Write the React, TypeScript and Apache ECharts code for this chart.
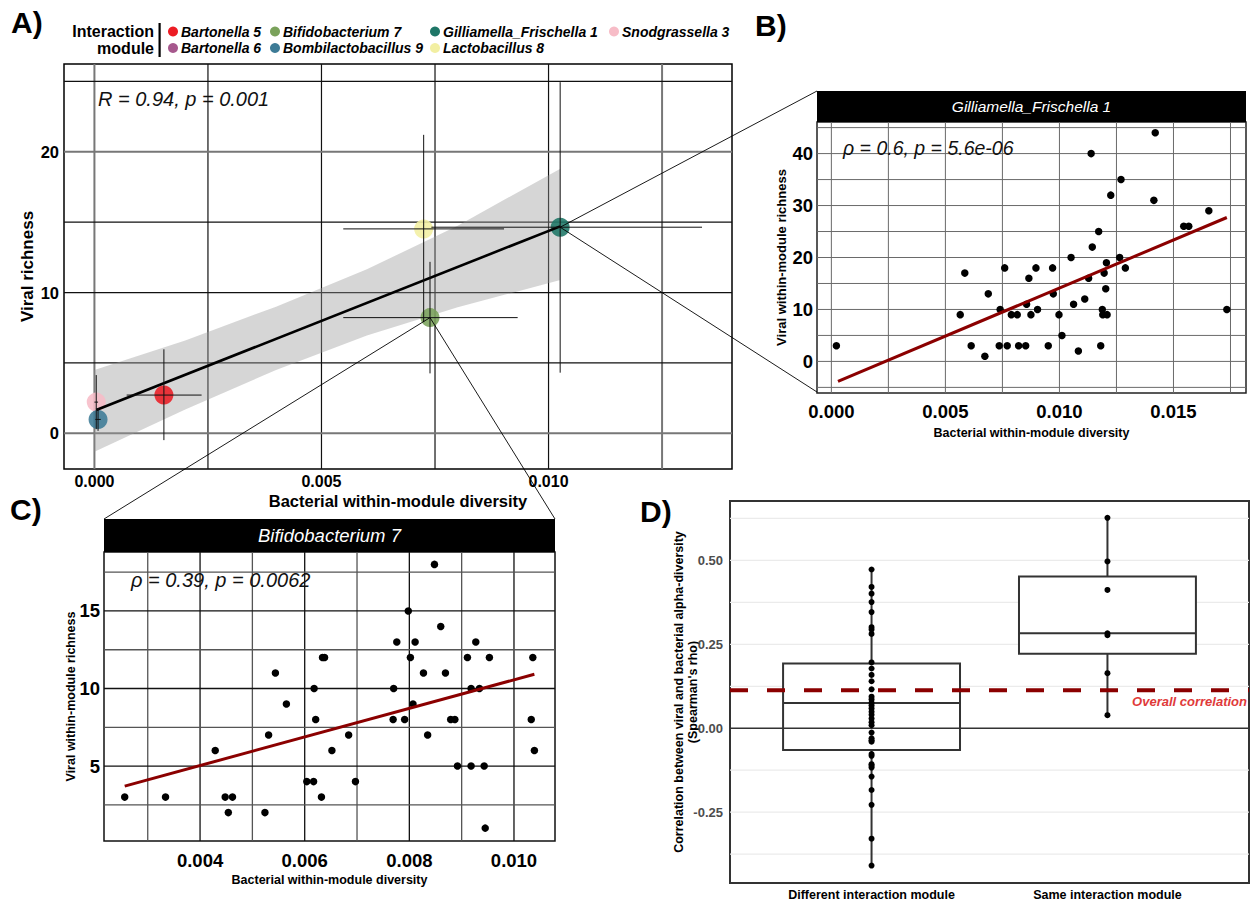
import React, { useEffect, useRef } from "react";
import * as echarts from "echarts";

const FONT = "'Liberation Sans', Arial, Helvetica, sans-serif";

// ---------------- modules / legend ----------------
const moduleNames = ["Bartonella 5", "Bartonella 6", "Bifidobacterium 7", "Bombilactobacillus 9", "Gilliamella_Frischella 1", "Lactobacillus 8", "Snodgrassella 3"];
const moduleColors = ["#EC1C24", "#A6588D", "#7AA25B", "#3D7B96", "#1E7667", "#F2EFA2", "#F7BCC7"];

// ---------------- Panel A ----------------
const aModules = ["Snodgrassella 3", "Bombilactobacillus 9", "Bartonella 5", "Lactobacillus 8", "Bifidobacterium 7", "Gilliamella_Frischella 1"];
const aBactDiv = [0.00004, 0.00008, 0.00153, 0.00725, 0.00739, 0.010256];
const aViralRich = [2.22, 0.99, 2.72, 14.52, 8.22, 14.64];
const aBactLo = [0.0, 0.00002, 0.00071, 0.00548, 0.00548, 0.00742];
const aBactHi = [0.00008, 0.00014, 0.00236, 0.00902, 0.00932, 0.01338];
const aViralLo = [0.3, 0.18, -0.48, 7.9, 4.26, 4.31];
const aViralHi = [4.14, 1.8, 5.97, 21.2, 12.18, 24.94];
const aFitX = [0.00004, 0.010256];
const aFitY = [1.66, 14.7];
const aBandX = [0, 0.002, 0.004, 0.006, 0.008, 0.01026];
const aBandLo = [-1.3, 1.7, 4.5, 6.95, 8.95, 10.9];
const aBandHi = [4.5, 6.6, 9.0, 11.65, 14.75, 18.8];
const aXTicks = [0, 0.005, 0.01];
const aYTicks = [0, 10, 20];
const aXGrid = [0, 0.0025, 0.005, 0.0075, 0.01, 0.0125];
const aYGrid = [0, 5, 10, 15, 20, 25];
const aCorrText = "R = 0.94, p = 0.001";

// ---------------- Panel B ----------------
const bTitle = "Gilliamella_Frischella 1";
const bBactDiv = [0.00022, 0.00565, 0.00585, 0.00613, 0.00673, 0.00688, 0.00736, 0.0074, 0.0076, 0.00771, 0.00789, 0.00815, 0.00821, 0.00852, 0.00856, 0.00866, 0.00875, 0.00897, 0.00904, 0.00951, 0.0097, 0.00973, 0.00998, 0.01011, 0.01051, 0.01062, 0.01083, 0.01111, 0.01128, 0.01139, 0.01144, 0.01172, 0.01181, 0.01188, 0.0119, 0.01196, 0.01203, 0.01206, 0.01209, 0.01225, 0.01264, 0.0127, 0.01289, 0.01414, 0.0142, 0.01545, 0.01567, 0.01655, 0.01734];
const bViralRich = [3, 9, 17, 3, 1, 13, 3, 10, 18, 3, 9, 9, 3, 3, 11, 16, 9, 18, 10, 3, 18, 13, 9, 5, 20, 11, 2, 12, 16, 40, 22, 25, 3, 10, 9, 17, 14, 19, 9, 32, 20, 35, 18, 31, 44, 26, 26, 29, 10];
const bFitX = [0.00029, 0.01734];
const bFitY = [-3.84, 27.7];
const bXTicks = [0, 0.005, 0.01, 0.015];
const bYTicks = [0, 10, 20, 30, 40];
const bXGrid = [0, 0.0025, 0.005, 0.0075, 0.01, 0.0125, 0.015, 0.0175];
const bYGrid = [-5, 0, 5, 10, 15, 20, 25, 30, 35, 40, 45];
const bCorrText = "ρ = 0.6, p = 5.6e-06";

// ---------------- Panel C ----------------
const cTitle = "Bifidobacterium 7";
const cBactDiv = [0.00256, 0.00334, 0.00429, 0.00448, 0.00454, 0.00462, 0.00524, 0.00531, 0.00544, 0.00565, 0.00604, 0.00617, 0.00618, 0.00621, 0.00632, 0.00634, 0.00638, 0.00652, 0.00684, 0.00697, 0.00769, 0.0077, 0.00776, 0.00791, 0.00798, 0.00802, 0.00807, 0.00811, 0.00827, 0.00835, 0.00848, 0.0086, 0.00869, 0.00879, 0.00887, 0.00892, 0.00911, 0.00918, 0.00918, 0.00927, 0.00934, 0.00943, 0.00945, 0.00953, 0.01033, 0.01036, 0.01039];
const cViralRich = [3, 3, 6, 3, 2, 3, 2, 7, 11, 9, 4, 4, 10, 8, 3, 12, 12, 6, 7, 4, 8, 10, 13, 8, 15, 12, 9, 13, 11, 7, 18, 14, 11, 8, 8, 5, 12, 10, 5, 13, 10, 5, 1, 12, 8, 12, 6];
const cFitX = [0.00256, 0.01039];
const cFitY = [3.71, 10.92];
const cXTicks = [0.004, 0.006, 0.008, 0.01];
const cYTicks = [5, 10, 15];
const cXGrid = [0.003, 0.004, 0.005, 0.006, 0.007, 0.008, 0.009, 0.01];
const cYGrid = [2.5, 5, 7.5, 10, 12.5, 15, 17.5];
const cCorrText = "ρ = 0.39, p = 0.0062";

// ---------------- Panel D ----------------
const dGroups = ["Different interaction module", "Same interaction module"];
const dDiffRho = [0.473, 0.421, 0.401, 0.376, 0.346, 0.301, 0.294, 0.281, 0.196, 0.178, 0.159, 0.14, 0.116, 0.094, 0.086, 0.076, 0.068, 0.059, 0.049, 0.04, 0.029, 0.018, 0.009, -0.013, -0.03, -0.036, -0.04, -0.077, -0.082, -0.107, -0.112, -0.117, -0.144, -0.184, -0.228, -0.329, -0.409];
const dSameRho = [0.627, 0.497, 0.412, 0.283, 0.277, 0.164, 0.039];
const dBoxMin = [-0.409, 0.0386];
const dBoxQ1 = [-0.065, 0.222];
const dBoxMed = [0.075, 0.283];
const dBoxQ3 = [0.193, 0.452];
const dBoxMax = [0.473, 0.627];
const dOverallRho = 0.113;
const dYTicks = [-0.25, 0, 0.25, 0.5];
const dYGrid = [-0.375, -0.25, -0.125, 0.125, 0.25, 0.375, 0.5, 0.625];
const dZero = [0];

// ---------------- layout ----------------
const GA = { left: 64, top: 64, width: 668, height: 405 };
const GB = { left: 817, top: 122, width: 429, height: 271 };
const GC = { left: 104, top: 552, width: 451, height: 289 };
const GD = { left: 730, top: 501, width: 519, height: 383 };

function vLines(idx: number, values: number[], yRef: number, styleFn: (v: number) => any, z = 1) {
  return {
    type: "custom",
    xAxisIndex: idx,
    yAxisIndex: idx,
    silent: true,
    z,
    data: values.map((v) => [v, yRef]),
    renderItem: (params: any, api: any) => {
      const cs = params.coordSys;
      const x = api.coord([api.value(0), api.value(1)])[0];
      return { type: "line", shape: { x1: x, y1: cs.y, x2: x, y2: cs.y + cs.height }, style: styleFn(api.value(0)) };
    },
  };
}
function hLines(idx: number, values: number[], xRef: number, styleFn: (v: number) => any, z = 1) {
  return {
    type: "custom",
    xAxisIndex: idx,
    yAxisIndex: idx,
    silent: true,
    z,
    data: values.map((v) => [xRef, v]),
    renderItem: (params: any, api: any) => {
      const cs = params.coordSys;
      const y = api.coord([api.value(0), api.value(1)])[1];
      return { type: "line", shape: { x1: cs.x, y1: y, x2: cs.x + cs.width, y2: y }, style: styleFn(api.value(1)) };
    },
  };
}

function valAxis(idx: number, min: number, max: number, ticks: number[], fmt: (v: number) => string, label: any, name?: string, nameGap?: number, nameStyle?: any) {
  return {
    type: "value",
    gridIndex: idx,
    min,
    max,
    axisLine: { show: false },
    axisTick: { show: false },
    splitLine: { show: false },
    axisLabel: { customValues: ticks, formatter: fmt, fontFamily: FONT, ...label },
    name: name || "",
    nameLocation: "middle",
    nameGap: nameGap || 0,
    nameMoveOverlap: false,
    nameTextStyle: { fontFamily: FONT, ...(nameStyle || {}) },
  };
}

export default function App() {
  const ref = useRef<HTMLDivElement>(null);
  useEffect(() => {
    if (!ref.current) return;
    const chart = echarts.init(ref.current, undefined, { renderer: "svg" });

    const boldLbl = (size: number, color = "#000", margin = 5) => ({ fontSize: size, fontWeight: "bold", color, margin, lineHeight: Math.round(size) });
    const titleStyle = (size: number) => ({ fontSize: size, fontWeight: "bold", color: "#000", lineHeight: Math.round(size) });

    const isGrayA = (v: number) => Math.abs(v) < 1e-12 || Math.abs(v - 0.0125) < 1e-9 || v === 20;
    const aGridStyle = (v: number) => ({ stroke: isGrayA(v) ? "#777" : "#111", lineWidth: isGrayA(v) ? 2 : 1.2 });
    const bGridStyle = (v: number) => ({ stroke: "#6a6a6a", lineWidth: 1 });
    const cGridX = (v: number) => ({ stroke: Math.round(v * 1000) % 2 === 0 ? "#111" : "#555", lineWidth: 1.3 });
    const cGridY = (v: number) => ({ stroke: v % 5 === 0 ? "#111" : "#555", lineWidth: 1.3 });

    const option: any = {
      animation: false,
      backgroundColor: "#fff",
      grid: [
        { ...GA, show: true, borderColor: "#000", borderWidth: 1.5, backgroundColor: "transparent" },
        { ...GB, show: true, borderColor: "#222", borderWidth: 1.5, backgroundColor: "transparent" },
        { ...GC, show: true, borderColor: "#111", borderWidth: 1.5, backgroundColor: "transparent" },
        { ...GD, show: true, borderColor: "#333", borderWidth: 2, backgroundColor: "transparent" },
      ],
      xAxis: [
        valAxis(0, -0.00067, 0.01404, aXTicks, (v) => v.toFixed(3), boldLbl(16, "#000", 4), "Bacterial within-module diversity", 23, titleStyle(16.5)),
        valAxis(1, -0.00063, 0.01818, bXTicks, (v) => v.toFixed(3), boldLbl(18.5, "#000", 9), "Bacterial within-module diversity", 33, titleStyle(12.5)),
        valAxis(2, 0.002164, 0.010784, cXTicks, (v) => v.toFixed(3), boldLbl(18.5, "#000", 10), "Bacterial within-module diversity", 32, titleStyle(12.5)),
        valAxis(3, 0.4, 2.6, [1, 2], (v) => dGroups[Math.round(v) - 1] || "", boldLbl(12.5, "#000", 5)),
      ],
      yAxis: [
        valAxis(0, -2.53, 26.23, aYTicks, (v) => String(v), boldLbl(16.5, "#000", 5), "Viral richness", 28, titleStyle(17)),
        valAxis(1, -6.08, 46.08, bYTicks, (v) => String(v), boldLbl(18.5, "#000", 4), "Viral within-module richness", 29, titleStyle(13)),
        valAxis(2, 0.17, 18.8, cYTicks, (v) => String(v), boldLbl(18.5, "#000", 4), "Viral within-module richness", 27, titleStyle(12.5)),
        valAxis(3, -0.461, 0.677, dYTicks, (v) => v.toFixed(2), boldLbl(13, "#4D4D4D", 7), "Correlation between viral and bacterial alpha-diversity\n(Spearman's rho)", 30, { ...titleStyle(12.5), lineHeight: 14 }),
      ],
      series: [
        // ---- A ----
        vLines(0, aXGrid, 0, aGridStyle),
        hLines(0, aYGrid, 0, aGridStyle),
        {
          type: "custom",
          xAxisIndex: 0,
          yAxisIndex: 0,
          silent: true,
          z: 2,
          data: [[aBandX[0], aBandLo[0]]],
          renderItem: (params: any, api: any) => {
            const pts: number[][] = [];
            aBandX.forEach((x, i) => pts.push(api.coord([x, aBandHi[i]])));
            for (let i = aBandX.length - 1; i >= 0; i--) pts.push(api.coord([aBandX[i], aBandLo[i]]));
            return { type: "polygon", shape: { points: pts, smooth: 0 }, style: { fill: "#999999", opacity: 0.4 } };
          },
        },
        {
          type: "scatter",
          xAxisIndex: 0,
          yAxisIndex: 0,
          z: 3,
          symbolSize: 19,
          data: aModules.map((m, i) => ({ value: [aBactDiv[i], aViralRich[i]], itemStyle: { color: moduleColors[moduleNames.indexOf(m)], opacity: 0.88 } })),
        },
        {
          type: "line",
          xAxisIndex: 0,
          yAxisIndex: 0,
          z: 4,
          symbol: "none",
          lineStyle: { color: "#000", width: 2.6 },
          data: aFitX.map((x, i) => [x, aFitY[i]]),
        },
        {
          type: "custom",
          xAxisIndex: 0,
          yAxisIndex: 0,
          silent: true,
          z: 5,
          data: aModules.map((m, i) => [aBactDiv[i], aViralRich[i], aBactLo[i], aBactHi[i], aViralLo[i], aViralHi[i]]),
          renderItem: (params: any, api: any) => {
            const c = api.coord([api.value(0), api.value(1)]);
            const l = api.coord([api.value(2), api.value(1)]);
            const r = api.coord([api.value(3), api.value(1)]);
            const b = api.coord([api.value(0), api.value(4)]);
            const t = api.coord([api.value(0), api.value(5)]);
            const st = { stroke: "#111", lineWidth: 1 };
            return {
              type: "group",
              children: [
                { type: "line", shape: { x1: l[0], y1: c[1], x2: r[0], y2: c[1] }, style: st },
                { type: "line", shape: { x1: c[0], y1: b[1], x2: c[0], y2: t[1] }, style: st },
              ],
            };
          },
        },
        // ---- B ----
        vLines(1, bXGrid, 0, bGridStyle),
        hLines(1, bYGrid, 0, bGridStyle),
        {
          type: "scatter",
          xAxisIndex: 1,
          yAxisIndex: 1,
          z: 3,
          symbolSize: 7.5,
          itemStyle: { color: "#000", opacity: 1 },
          data: bBactDiv.map((x, i) => [x, bViralRich[i]]),
        },
        {
          type: "line",
          xAxisIndex: 1,
          yAxisIndex: 1,
          z: 4,
          symbol: "none",
          lineStyle: { color: "#8B0000", width: 3 },
          data: bFitX.map((x, i) => [x, bFitY[i]]),
        },
        // ---- C ----
        vLines(2, cXGrid, 5, cGridX),
        hLines(2, cYGrid, 0.005, cGridY),
        {
          type: "scatter",
          xAxisIndex: 2,
          yAxisIndex: 2,
          z: 3,
          symbolSize: 7.5,
          itemStyle: { color: "#000", opacity: 1 },
          data: cBactDiv.map((x, i) => [x, cViralRich[i]]),
        },
        {
          type: "line",
          xAxisIndex: 2,
          yAxisIndex: 2,
          z: 4,
          symbol: "none",
          lineStyle: { color: "#8B0000", width: 3 },
          data: cFitX.map((x, i) => [x, cFitY[i]]),
        },
        // ---- D ----
        hLines(3, dYGrid, 1, () => ({ stroke: "#EBEBEB", lineWidth: 1.2 })),
        {
          type: "custom",
          xAxisIndex: 3,
          yAxisIndex: 3,
          silent: true,
          z: 2,
          data: dGroups.map((g, i) => [i + 1, dBoxMin[i], dBoxQ1[i], dBoxMed[i], dBoxQ3[i], dBoxMax[i]]),
          renderItem: (params: any, api: any) => {
            const x = api.value(0);
            const pMin = api.coord([x, api.value(1)]);
            const pQ1 = api.coord([x, api.value(2)]);
            const pMed = api.coord([x, api.value(3)]);
            const pQ3 = api.coord([x, api.value(4)]);
            const pMax = api.coord([x, api.value(5)]);
            const hw = api.size([0.375, 0])[0];
            const st = { stroke: "#333", lineWidth: 2, fill: "none" };
            return {
              type: "group",
              children: [
                { type: "line", shape: { x1: pMin[0], y1: pMin[1], x2: pQ1[0], y2: pQ1[1] }, style: st },
                { type: "line", shape: { x1: pQ3[0], y1: pQ3[1], x2: pMax[0], y2: pMax[1] }, style: st },
                { type: "rect", shape: { x: pMed[0] - hw, y: pQ3[1], width: 2 * hw, height: pQ1[1] - pQ3[1] }, style: { stroke: "#333", lineWidth: 2, fill: "#fff" } },
                { type: "line", shape: { x1: pMed[0] - hw, y1: pMed[1], x2: pMed[0] + hw, y2: pMed[1] }, style: st },
              ],
            };
          },
        },
        hLines(3, dZero, 1, () => ({ stroke: "#333", lineWidth: 1.5 }), 3),
        {
          type: "scatter",
          xAxisIndex: 3,
          yAxisIndex: 3,
          z: 4,
          symbolSize: 6,
          itemStyle: { color: "#000", opacity: 1 },
          data: [...dDiffRho.map((v) => [1, v]), ...dSameRho.map((v) => [2, v])],
        },
        {
          type: "line",
          xAxisIndex: 3,
          yAxisIndex: 3,
          z: 5,
          symbol: "none",
          lineStyle: { color: "#8B0000", width: 4, type: [18, 19] },
          data: [[0.4, dOverallRho], [2.6, dOverallRho]],
        },
      ],
    };

    chart.setOption(option);

    const teal = chart.convertToPixel({ xAxisIndex: 0, yAxisIndex: 0 }, [aBactDiv[5], aViralRich[5]]) as number[];
    const green = chart.convertToPixel({ xAxisIndex: 0, yAxisIndex: 0 }, [aBactDiv[4], aViralRich[4]]) as number[];
    const overall = chart.convertToPixel({ xAxisIndex: 3, yAxisIndex: 3 }, [2.6, dOverallRho]) as number[];

    const conn = (p: number[], x2: number, y2: number) => ({ type: "line", z: 50, silent: true, shape: { x1: p[0], y1: p[1], x2, y2 }, style: { stroke: "#000", lineWidth: 0.9 } });
    const txt = (text: string, x: number, y: number, style: any, z = 60) => ({ type: "text", x, y, z, silent: true, style: { text, fontFamily: FONT, verticalAlign: "middle", ...style } });

    const legendItems: any[] = [];
    moduleNames.forEach((m, i) => {
      const colX = [173, 275, 435, 614][Math.floor(i / 2)];
      const rowY = [31.5, 48][i % 2];
      legendItems.push({ type: "circle", z: 60, shape: { cx: colX, cy: rowY, r: 5 }, style: { fill: moduleColors[i] } });
      legendItems.push(txt(m, colX + 8, rowY, { fontSize: 14, fontStyle: "italic", fontWeight: "bold", fill: "#000" }));
    });

    chart.setOption({
      graphic: [
        conn(teal, GB.left, 91),
        conn(teal, GB.left, GB.top + GB.height - 1),
        conn(green, GC.left, 519),
        conn(green, GC.left + GC.width, 519),
        // panel letters
        txt("A)", 11, 22, { fontSize: 30, fontWeight: "bold", fill: "#000" }),
        txt("B)", 755, 25, { fontSize: 30, fontWeight: "bold", fill: "#000" }),
        txt("C)", 10, 509, { fontSize: 30, fontWeight: "bold", fill: "#000" }),
        txt("D)", 640, 511, { fontSize: 30, fontWeight: "bold", fill: "#000" }),
        // legend
        txt("Interaction", 154, 31.5, { fontSize: 16, fontWeight: "bold", fill: "#000", align: "right" }),
        txt("module", 154, 48, { fontSize: 16, fontWeight: "bold", fill: "#000", align: "right" }),
        { type: "rect", z: 60, shape: { x: 158.5, y: 23, width: 2.2, height: 34 }, style: { fill: "#000" } },
        ...legendItems,
        // correlation texts
        txt(aCorrText, 98, 99, { fontSize: 20, fontStyle: "italic", fill: "#111" }),
        txt(bCorrText, 843, 148, { fontSize: 19.5, fontStyle: "italic", fill: "#111" }),
        txt(cCorrText, 131, 580, { fontSize: 20, fontStyle: "italic", fill: "#111" }),
        // strip titles
        { type: "rect", z: 40, shape: { x: GB.left, y: 91, width: GB.width, height: GB.top - 91 }, style: { fill: "#000" } },
        txt(bTitle, GB.left + GB.width / 2, 106.5, { fontSize: 15.5, fontStyle: "italic", fill: "#fff", align: "center" }),
        { type: "rect", z: 40, shape: { x: GC.left, y: 519, width: GC.width, height: GC.top - 519 }, style: { fill: "#000" } },
        txt(cTitle, GC.left + GC.width / 2, 535.5, { fontSize: 18.5, fontStyle: "italic", fill: "#fff", align: "center" }),
        // overall correlation label
        txt("Overall correlation", overall[0] - 2, overall[1] + 11, { fontSize: 13, fontStyle: "italic", fontWeight: "bold", fill: "#E03A3A", align: "right" }),
      ],
    });

    return () => chart.dispose();
  }, []);
  return <div ref={ref} style={{ position: "fixed", left: 0, top: 0, width: 1250, height: 901, background: "#fff" }} />;
}
